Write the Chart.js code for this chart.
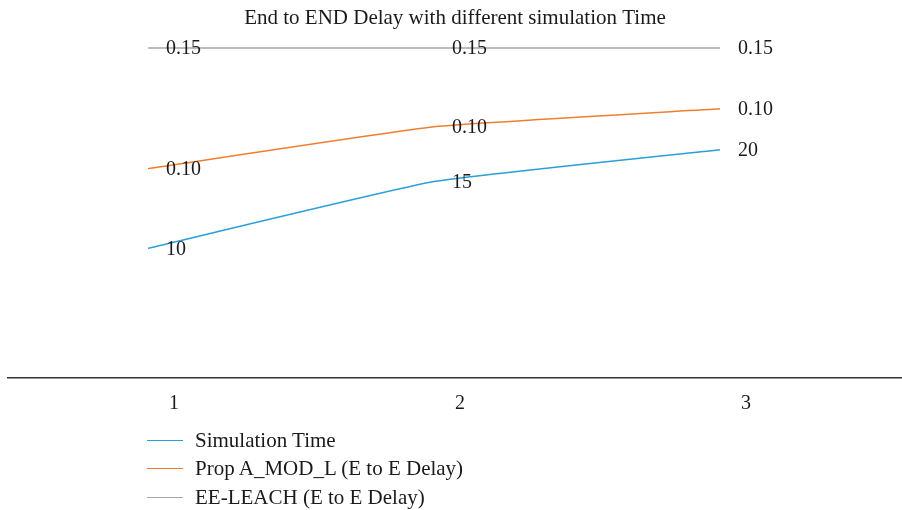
<!DOCTYPE html>
<html>
<head>
<meta charset="utf-8">
<script src="https://cdn.jsdelivr.net/npm/chart.js@4/dist/chart.umd.min.js"></script>
<style>
  html, body { margin: 0; padding: 0; background: #fff; }
  #wrap { position: relative; width: 902px; height: 510px; }
  canvas { position: absolute; left: 0; top: 0; }
  #legend { position: absolute; left: 147px; top: 426px; font-family: "Liberation Serif", serif; font-size: 21px; color: #1a1a1a; }
  .item { display: flex; align-items: center; height: 28.5px; }
  .swatch { width: 36px; height: 0; border-top: 1.5px solid; margin-right: 12px; }
</style>
</head>
<body>
<div id="wrap">
  <canvas id="c" width="902" height="510"></canvas>
  <div id="legend"></div>
</div>
<script>
// Categories (simulation runs)
const categories = [1, 2, 3];
const tickLabels = ['1', '2', '3'];

// Series names
const seriesNames = ['Simulation Time', 'Prop A_MOD_L (E to E Delay)', 'EE-LEACH (E to E Delay)'];

// Plotted levels (relative height units above the axis)
const simulationTime = [130, 197, 229];
const propDelay = [210, 252, 270];
const eeLeachDelay = [331, 331, 331];

// Data label texts as shown in the picture
const simulationTimeLabels = ['10', '15', '20'];
const propDelayLabels = ['0.10', '0.10', '0.10'];
const eeLeachDelayLabels = ['0.15', '0.15', '0.15'];

const colors = ['#2a9fd8', '#ef7f2f', '#a6a6a6'];
const FONT = '"Liberation Serif", serif';

const seriesValues = [simulationTime, propDelay, eeLeachDelay];
const seriesLabels = [simulationTimeLabels, propDelayLabels, eeLeachDelayLabels];

const datasets = seriesNames.map((name, i) => ({
  label: name,
  data: categories.map((c, j) => ({ x: c, y: seriesValues[i][j] })),
  borderColor: colors[i],
  backgroundColor: colors[i],
  borderWidth: 1.5,
  pointRadius: 0,
  tension: 0.12,
  fill: false,
  dataLabels: seriesLabels[i]
}));

const dataLabelPlugin = {
  id: 'dataLabels',
  afterDatasetsDraw(chart) {
    const ctx = chart.ctx;
    ctx.save();
    ctx.font = '20px ' + FONT;
    ctx.fillStyle = '#1a1a1a';
    ctx.textAlign = 'left';
    ctx.textBaseline = 'middle';
    chart.data.datasets.forEach((ds, i) => {
      const meta = chart.getDatasetMeta(i);
      meta.data.forEach((pt, j) => {
        ctx.fillText(ds.dataLabels[j], pt.x + 18, pt.y + 1);
      });
    });
    ctx.restore();
  }
};

new Chart(document.getElementById('c'), {
  type: 'line',
  data: { datasets },
  options: {
    responsive: false,
    animation: false,
    layout: { padding: { left: 8, right: 0, top: 0, bottom: 80 } },
    plugins: {
      legend: { display: false },
      tooltip: { enabled: false },
      title: {
        display: true,
        text: 'End to END Delay with different simulation Time',
        color: '#1a1a1a',
        font: { family: FONT, size: 21, weight: 'normal', lineHeight: 1.2 },
        padding: { top: 5.4, bottom: 8.4 }
      }
    },
    scales: {
      x: {
        type: 'linear',
        min: 0.5105,
        max: 3.6364,
        afterBuildTicks(scale) {
          scale.ticks = categories.map(v => ({ value: v }));
        },
        ticks: {
          callback: (v) => tickLabels[categories.indexOf(v)] ?? '',
          labelOffset: 26,
          padding: 14,
          color: '#1a1a1a',
          maxRotation: 0,
          font: { family: FONT, size: 20 }
        },
        grid: { display: true, drawOnChartArea: false, drawTicks: false },
        border: { display: true, color: '#333333', width: 1.5 }
      },
      y: {
        display: false,
        min: 0,
        max: 340
      }
    }
  },
  plugins: [dataLabelPlugin]
});

// HTML legend
const legend = document.getElementById('legend');
seriesNames.forEach((name, i) => {
  const item = document.createElement('div');
  item.className = 'item';
  const sw = document.createElement('span');
  sw.className = 'swatch';
  sw.style.borderTopColor = colors[i];
  const tx = document.createElement('span');
  tx.textContent = name;
  item.appendChild(sw);
  item.appendChild(tx);
  legend.appendChild(item);
});
</script>
</body>
</html>
